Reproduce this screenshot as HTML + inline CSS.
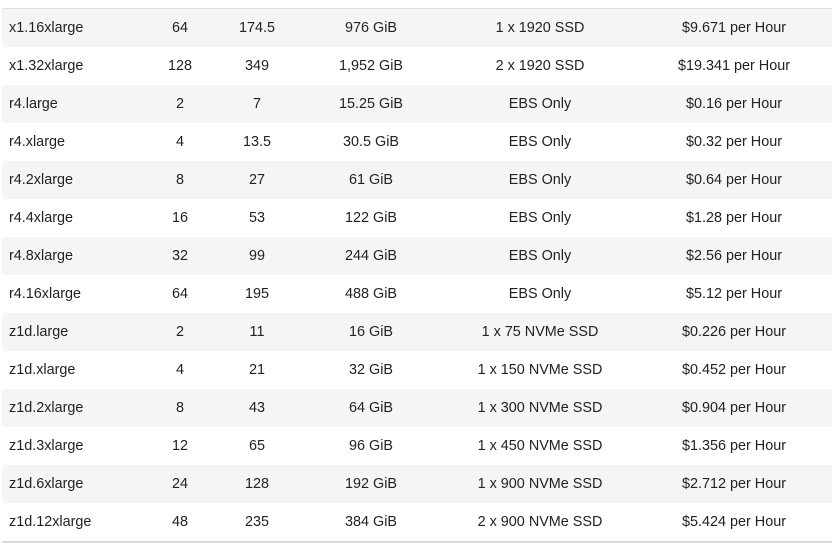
<!DOCTYPE html>
<html><head><meta charset="utf-8"><style>
body{margin:0;width:834px;height:546px;background:#fff;overflow:hidden;font-family:"Liberation Sans",sans-serif;font-size:14.4px;color:#222}
.tbl{position:absolute;left:2px;top:8px;width:830px;border-top:1px solid #e0e0e0;border-bottom:2px solid #dcdcdc}
.row{position:relative;height:38px;}
.row:nth-child(odd){background:#f5f5f5}
.c{position:absolute;top:0;line-height:38px;white-space:nowrap;transform:translateX(-50%)}
.c1{left:7px;transform:none}
.c2{left:178px}.c3{left:255px}.c4{left:369px}.c5{left:538px}.c6{left:732px}
</style></head><body>
<div class="tbl" id="t"></div>
<script>
const rows=[
["x1.16xlarge","64","174.5","976 GiB","1 x 1920 SSD","$9.671 per Hour"],
["x1.32xlarge","128","349","1,952 GiB","2 x 1920 SSD","$19.341 per Hour"],
["r4.large","2","7","15.25 GiB","EBS Only","$0.16 per Hour"],
["r4.xlarge","4","13.5","30.5 GiB","EBS Only","$0.32 per Hour"],
["r4.2xlarge","8","27","61 GiB","EBS Only","$0.64 per Hour"],
["r4.4xlarge","16","53","122 GiB","EBS Only","$1.28 per Hour"],
["r4.8xlarge","32","99","244 GiB","EBS Only","$2.56 per Hour"],
["r4.16xlarge","64","195","488 GiB","EBS Only","$5.12 per Hour"],
["z1d.large","2","11","16 GiB","1 x 75 NVMe SSD","$0.226 per Hour"],
["z1d.xlarge","4","21","32 GiB","1 x 150 NVMe SSD","$0.452 per Hour"],
["z1d.2xlarge","8","43","64 GiB","1 x 300 NVMe SSD","$0.904 per Hour"],
["z1d.3xlarge","12","65","96 GiB","1 x 450 NVMe SSD","$1.356 per Hour"],
["z1d.6xlarge","24","128","192 GiB","1 x 900 NVMe SSD","$2.712 per Hour"],
["z1d.12xlarge","48","235","384 GiB","2 x 900 NVMe SSD","$5.424 per Hour"]];
const cols=["instance-type","vcpu","ecu","memory","storage","price"];
const t=document.getElementById('t');
rows.forEach(r=>{
 const d=document.createElement('div');d.className='row';
 
 
 r.forEach((v,i)=>{
  const s=document.createElement('span');s.className='c c'+(i+1);s.textContent=v;
  
  
  d.appendChild(s);
 });
 t.appendChild(d);
});
</script>
</body></html>
